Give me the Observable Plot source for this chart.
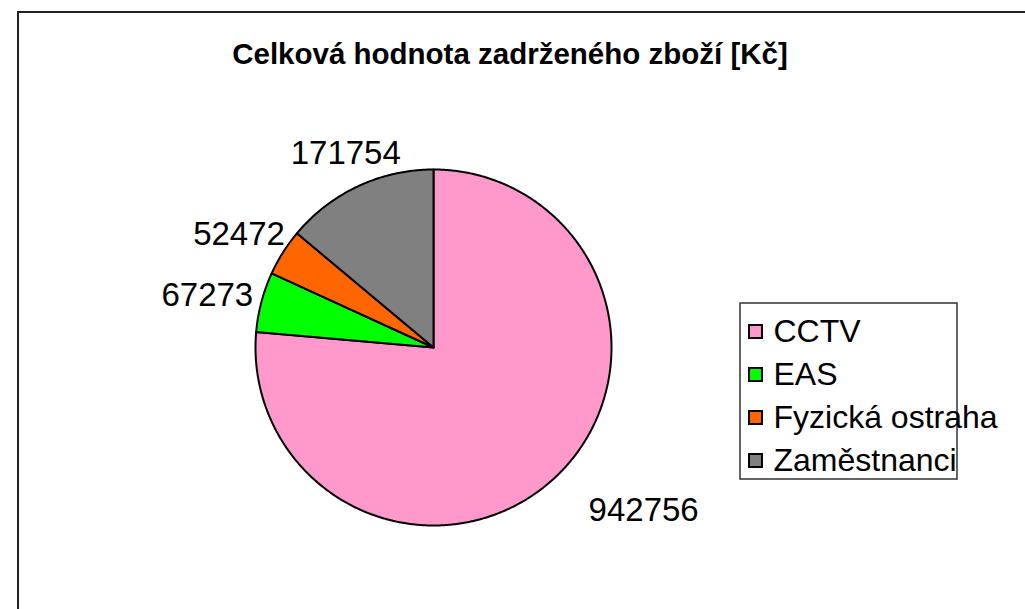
<!DOCTYPE html>
<html>
<head>
<meta charset="utf-8">
<script src="https://cdn.jsdelivr.net/npm/d3@7"></script>
<script src="https://cdn.jsdelivr.net/npm/@observablehq/plot@0.6"></script>
<style>
  html, body { margin: 0; padding: 0; background: #fff; }
  #wrap { position: relative; width: 1025px; height: 609px; overflow: hidden; font-family: "Liberation Sans", Arial, sans-serif; }
  #border { position: absolute; left: 17px; top: 11px; width: 1100px; height: 700px; border-top: 2px solid #222; border-left: 2px solid #222; }
  #title { position: absolute; left: 0; top: 37px; width: 1020px; text-align: center; font-weight: bold; font-size: 29.5px; color: #000; }
  #pie, #legend { position: absolute; left: 0; top: 0; }
</style>
</head>
<body>
<div id="wrap">
  <div id="border"></div>
  <div id="title">Celková hodnota zadrženého zboží [Kč]</div>
  <div id="pie"></div>
  <div id="legend"></div>
</div>
<script>
// ---- data ----
const categories = ["CCTV", "EAS", "Fyzická ostraha", "Zaměstnanci"];
const values = [942756, 67273, 52472, 171754];
const colors = ["#FF99CC", "#00FF00", "#FF6600", "#808080"];

// ---- layout ----
const W = 1025, H = 609;
const cx = 433, cy = 347, R = 178;
const labelFont = 33;
const legendFont = 32;
const gapX = 38, gapY = 22;   // px between arc and label box
const labelDx = 27, labelDy = 3; // label box shift (as in the source chart)

const slices = categories.map((name, i) => ({name, value: values[i]}));
const arcs = d3.pie().sort(null).value(d => d.value)(slices);

// polygon points for each slice (unit circle coordinates; y grows downward)
const pts = [];
for (const a of arcs) {
  const n = Math.max(2, Math.ceil((a.endAngle - a.startAngle) / (Math.PI / 360)));
  pts.push({name: a.data.name, x: 0, y: 0});
  for (let k = 0; k <= n; k++) {
    const t = a.startAngle + (a.endAngle - a.startAngle) * k / n;
    pts.push({name: a.data.name, x: Math.sin(t), y: -Math.cos(t)});
  }
  pts.push({name: a.data.name, x: 0, y: 0});
}

// label positions: outside the arc at the mid angle, box offset outward
const labels = arcs.map(a => {
  const m = (a.startAngle + a.endAngle) / 2;
  const s = Math.sin(m), c = Math.cos(m);
  const txt = String(a.data.value);
  const w = txt.length * 0.556 * labelFont;
  const h = 1.05 * labelFont;
  return {
    text: txt,
    x: s * (R + gapX + w / 2) / R,
    y: -c * (R + gapY + h / 2) / R
  };
});

const pie = Plot.plot({
  width: W, height: H,
  margin: 0,
  style: {overflow: "visible", background: "transparent"},
  x: {domain: [-1, 1], range: [cx - R, cx + R], axis: null},
  y: {domain: [-1, 1], range: [cy - R, cy + R], axis: null},
  color: {domain: categories, range: colors},
  marks: [
    Plot.line(pts, {x: "x", y: "y", z: "name", fill: "name", stroke: "#000", strokeWidth: 2, strokeLinejoin: "round"}),
    Plot.text(labels, {x: "x", y: "y", text: "text", dx: labelDx, dy: labelDy, fontSize: labelFont, fill: "#000", fontFamily: "Liberation Sans, Arial, sans-serif"})
  ]
});
document.getElementById("pie").appendChild(pie);

// ---- legend ----
const LX = 739, LY = 302, LW = 218, LH = 177;
const legend = Plot.plot({
  width: LW, height: LH,
  margin: 0,
  style: {overflow: "visible", background: "transparent"},
  x: {domain: [0, LW], range: [0, LW], axis: null},
  y: {type: "point", domain: categories, range: [29, 158], padding: 0, axis: null},
  color: {domain: categories, range: colors},
  marks: [
    Plot.frame({stroke: "#333", strokeWidth: 1.5, inset: 0.5}),
    Plot.dot(categories, {x: () => 16, y: d => d, symbol: "square", r: 7.3, fill: d => d, stroke: "#000", strokeWidth: 2}),
    Plot.text(categories, {x: () => 34, y: d => d, text: d => d, textAnchor: "start", fontSize: legendFont, fill: "#000", fontFamily: "Liberation Sans, Arial, sans-serif"})
  ]
});
const lg = document.getElementById("legend");
lg.style.left = LX + "px";
lg.style.top = LY + "px";
lg.appendChild(legend);
</script>
</body>
</html>
